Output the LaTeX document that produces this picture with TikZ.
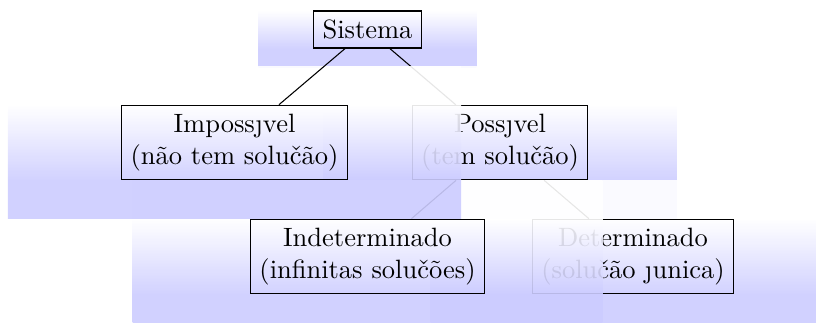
\documentclass[tikz,border=0pt]{standalone}
\usepackage{fontspec}
\usetikzlibrary{calc}
\pgfdeclarelayer{bA}\pgfdeclarelayer{nA}
\pgfdeclarelayer{bB}\pgfdeclarelayer{nB}
\pgfdeclarelayer{bC}\pgfdeclarelayer{nC}
\pgfdeclarelayer{bD}\pgfdeclarelayer{nD}
\pgfdeclarelayer{bE}\pgfdeclarelayer{nE}
\pgfsetlayers{bA,nA,bB,nB,bC,nC,bD,nD,bE,nE,main}
\pgfdeclareverticalshading{bgaxis}{100bp}{color(0bp)=(blue!20); color(37.5bp)=(blue!20); color(62.5bp)=(white); color(100bp)=(white)}
\tikzset{
  tbox/.style={draw=black, line width=0.45pt, align=center, inner sep=0.3333em},
  bgshade/.style={shading=bgaxis, opacity=0.9},
  edgeline/.style={draw=black, line width=0.4pt},
}
\newcommand{\bgrect}[1]{\shade[bgshade] ($(#1.center)!2!(#1.north west)$) rectangle ($(#1.center)!2!(#1.south east)$);}
\begin{document}
\begin{tikzpicture}[x=0.3774pt, y=-0.3774pt]
\useasboundingbox (0,0) rectangle (816,323);
% group 1: Sistema
\begin{pgfonlayer}{nA}
  \node[tbox] (S) at (367.5,29.5) {Sistema};
\end{pgfonlayer}
\begin{pgfonlayer}{bA}\bgrect{S}\end{pgfonlayer}
% group 2: Possivel
\begin{pgfonlayer}{nB}
  \node[tbox] (P) at (500,142.5) {Possȷvel\\(tem solučão)};
  \draw[edgeline] (S) -- (P);
\end{pgfonlayer}
\begin{pgfonlayer}{bB}\bgrect{P}\end{pgfonlayer}
% group 3: Determinado
\begin{pgfonlayer}{nC}
  \node[tbox] (D) at (633,256.5) {Determinado\\(solučão ȷunica)};
  \draw[edgeline] (P) -- (D);
\end{pgfonlayer}
\begin{pgfonlayer}{bC}\bgrect{D}\end{pgfonlayer}
% group 4: Indeterminado
\begin{pgfonlayer}{nD}
  \node[tbox] (N) at (367.5,256.5) {Indeterminado\\(infinitas solučões)};
  \draw[edgeline] (P) -- (N);
\end{pgfonlayer}
\begin{pgfonlayer}{bD}\bgrect{N}\end{pgfonlayer}
% group 5: Impossivel
\begin{pgfonlayer}{nE}
  \node[tbox] (I) at (234.5,142.5) {Impossȷvel\\(não tem solučão)};
  \draw[edgeline] (S) -- (I);
\end{pgfonlayer}
\begin{pgfonlayer}{bE}\bgrect{I}\end{pgfonlayer}
\end{tikzpicture}
\end{document}
